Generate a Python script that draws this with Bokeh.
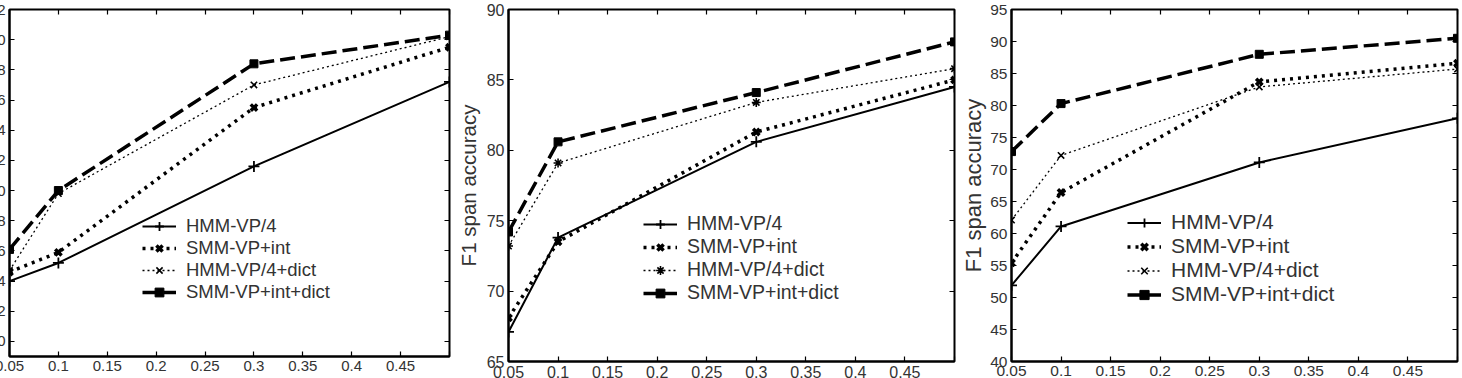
from bokeh.plotting import figure
from bokeh.layouts import row
from bokeh.models import (Range1d, FixedTicker, LinearAxis, Legend, LegendItem,
                          CustomLabelingPolicy)
from bokeh.embed import file_html
from bokeh.resources import INLINE

# Training-set fraction on the x axis (shared by all three panels)
fractions = [0.05, 0.1, 0.3, 0.5]
x_ticks = [0.05, 0.1, 0.15, 0.2, 0.25, 0.3, 0.35, 0.4, 0.45, 0.5]
x_tick_labels = ["0.05", "0.1", "0.15", "0.2", "0.25", "0.3", "0.35", "0.4", "0.45", ""]

series_names = ["HMM-VP/4", "SMM-VP+int", "HMM-VP/4+dict", "SMM-VP+int+dict"]

# Panel 1
p1_hmm = [64.0, 65.2, 71.6, 77.2]
p1_smm = [64.6, 65.9, 75.5, 79.5]
p1_hmm_dict = [64.7, 69.8, 77.0, 80.2]
p1_smm_dict = [66.1, 70.0, 78.4, 80.3]
p1_y_ticks = [60, 62, 64, 66, 68, 70, 72, 74, 76, 78, 80, 82]

# Panel 2
p2_hmm = [67.1, 73.8, 80.6, 84.5]
p2_smm = [68.1, 73.5, 81.3, 85.0]
p2_hmm_dict = [73.2, 79.1, 83.4, 85.8]
p2_smm_dict = [74.2, 80.6, 84.1, 87.7]
p2_y_ticks = [65, 70, 75, 80, 85, 90]

# Panel 3
p3_hmm = [51.9, 61.1, 71.1, 78.0]
p3_smm = [55.4, 66.4, 83.7, 86.6]
p3_hmm_dict = [62.1, 72.2, 82.9, 85.7]
p3_smm_dict = [72.8, 80.3, 88.0, 90.5]
p3_y_ticks = [40, 45, 50, 55, 60, 65, 70, 75, 80, 85, 90, 95]

FONT = "Liberation Sans"
TEXT = "#333333"

line_styles = {
    "HMM-VP/4": dict(width=2, dash="solid", marker="cross", size=11, mlw=1.8),
    "SMM-VP+int": dict(width=3.5, dash="3 5", marker="x", size=9, mlw=3.5),
    "HMM-VP/4+dict": dict(width=1.3, dash="2 3", marker="x", size=9, mlw=1.6),
    "SMM-VP+int+dict": dict(width=3.5, dash="15 6", marker="square", size=8, mlw=1),
}


def make_panel(series, y_range, y_ticks, *, top, frame_w, frame_h, left, right,
               tick_font, legend_font, legend_pos, y_label=None, label_font="20px",
               label_standoff=2, dict_marker="x", row_h=22):
    p = figure(frame_width=frame_w, frame_height=frame_h,
               min_border_left=left, min_border_right=right,
               min_border_top=top, min_border_bottom=22,
               x_range=Range1d(0.05, 0.5), y_range=Range1d(*y_range),
               output_backend="svg", toolbar_location=None)
    p.xgrid.visible = False
    p.ygrid.visible = False
    p.outline_line_color = "black"
    p.outline_line_width = 2
    p.outline_line_alpha = 1
    p.background_fill_color = "white"
    p.border_fill_color = "white"

    xa = p.xaxis[0]
    ya = p.yaxis[0]
    xa.ticker = FixedTicker(ticks=x_ticks)
    xa.major_label_overrides = {t: lab for t, lab in zip(x_ticks, x_tick_labels)}
    ya.ticker = FixedTicker(ticks=y_ticks)
    for ax in (xa, ya):
        ax.axis_line_color = "black"
        ax.axis_line_width = 2
        ax.major_tick_in = 5
        ax.major_tick_out = 0
        ax.major_tick_line_width = 1.2
        ax.minor_tick_line_color = None
        ax.major_label_text_font = FONT
        ax.major_label_text_font_size = tick_font
        ax.major_label_text_color = TEXT
        ax.major_label_standoff = 4
    if y_label:
        ya.axis_label = y_label
        ya.axis_label_text_font = FONT
        ya.axis_label_text_font_size = label_font
        ya.axis_label_text_font_style = "normal"
        ya.axis_label_text_color = TEXT
        ya.axis_label_standoff = label_standoff

    # mirrored inward ticks on the top and right edges, without labels
    no_labels = CustomLabelingPolicy(code="return []")
    top_ax = LinearAxis(ticker=FixedTicker(ticks=x_ticks))
    right_ax = LinearAxis(ticker=FixedTicker(ticks=y_ticks))
    for ax in (top_ax, right_ax):
        ax.axis_line_color = None
        ax.major_tick_in = 5
        ax.major_tick_out = 0
        ax.major_tick_line_width = 1.2
        ax.minor_tick_line_color = None
        ax.major_label_text_font_size = "1px"
        ax.major_label_standoff = 0
        ax.major_label_policy = no_labels
    p.add_layout(top_ax, "above")
    p.add_layout(right_ax, "right")

    items = []
    for name, ys in zip(series_names, series):
        st = line_styles[name]
        marker = dict_marker if name == "HMM-VP/4+dict" else st["marker"]
        lr = p.line(fractions, ys, line_color="black", line_width=st["width"],
                    line_dash=st["dash"])
        mr = p.scatter(fractions, ys, marker=marker, size=st["size"],
                       line_color="black", fill_color="black",
                       line_width=st["mlw"])
        items.append(LegendItem(label=name, renderers=[lr, mr]))

    legend = Legend(items=items, location=legend_pos, padding=0, margin=0,
                    spacing=0, glyph_height=row_h, glyph_width=34, label_height=row_h,
                    label_standoff=10, border_line_color=None,
                    background_fill_alpha=0, label_text_font=FONT,
                    label_text_font_size=legend_font, label_text_color=TEXT)
    p.add_layout(legend, "center")
    return p


p1 = make_panel([p1_hmm, p1_smm, p1_hmm_dict, p1_smm_dict], (59, 82), p1_y_ticks,
                top=9, frame_w=440, frame_h=347, left=40, right=1,
                tick_font="15px", legend_font="18.5px", legend_pos=(133, 53))
p1.margin = (0, 0, 0, -31)

p2 = make_panel([p2_hmm, p2_smm, p2_hmm_dict, p2_smm_dict], (65, 90), p2_y_ticks,
                top=4, frame_w=446, frame_h=352, left=52, right=2,
                tick_font="16px", legend_font="19.5px", legend_pos=(135, 57),
                y_label="F1 span accuracy", label_font="20.5px", label_standoff=4,
                dict_marker="asterisk")

p3 = make_panel([p3_hmm, p3_smm, p3_hmm_dict, p3_smm_dict], (40, 95), p3_y_ticks,
                top=4, frame_w=446, frame_h=352, left=51, right=15,
                tick_font="15.5px", legend_font="21px", legend_pos=(116, 55),
                y_label="F1 span accuracy", label_font="22px", label_standoff=1,
                row_h=23)

layout = row(p1, p2, p3, spacing=0)
open("out.html", "w").write(file_html(layout, INLINE))
